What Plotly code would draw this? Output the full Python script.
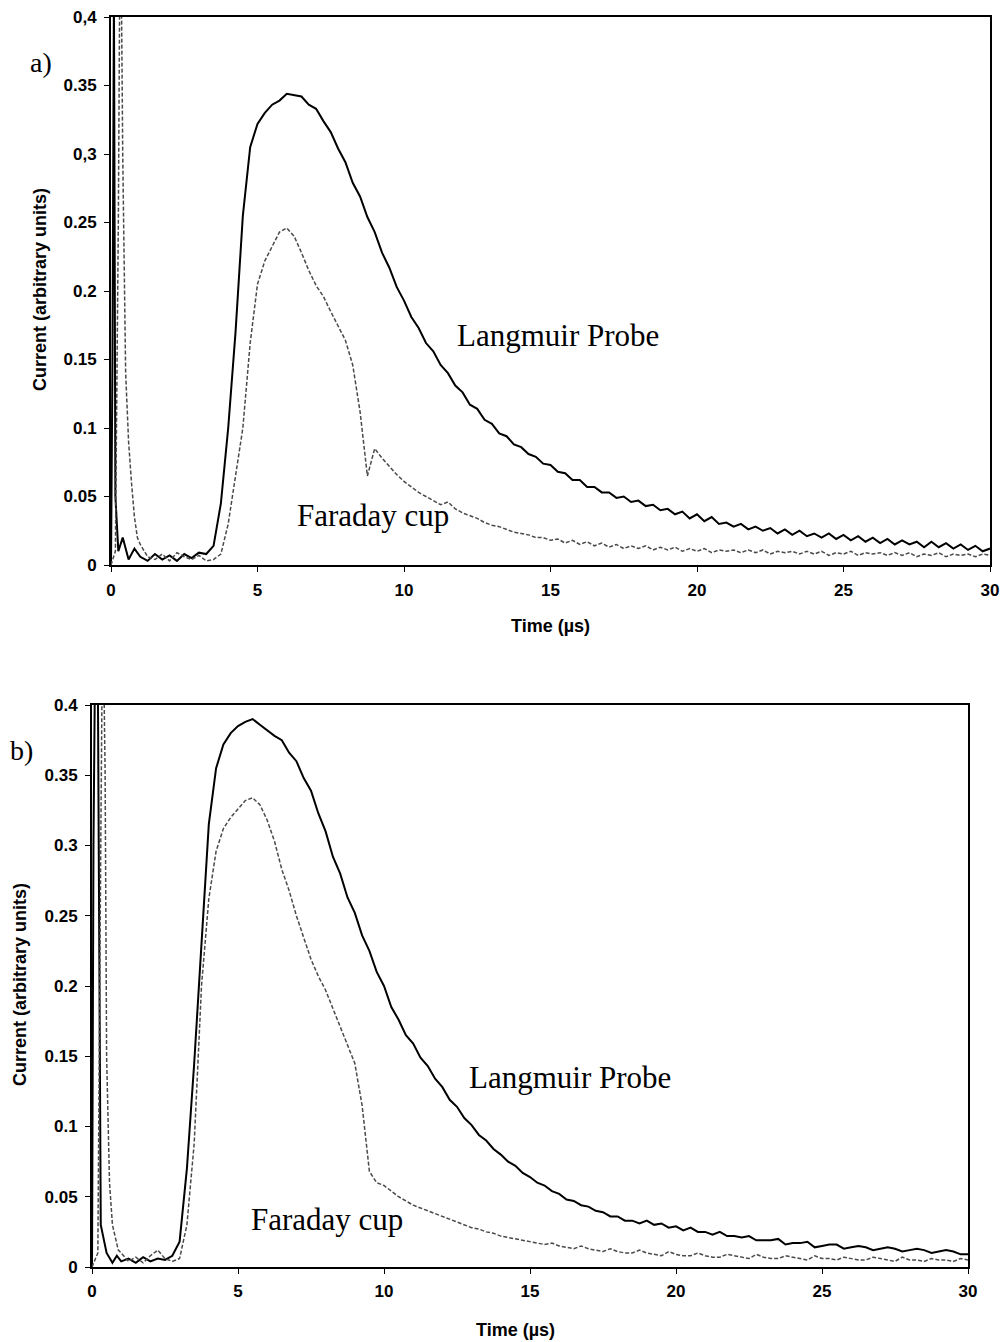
import numpy as np
import plotly.graph_objects as go

# ---------------- data ----------------
# common sampling grid after the initial spike (µs)
T_GRID = [round(1.0 + 0.25 * i, 2) for i in range(117)]

# --- panel a) ---
LA_EARLY_T = [0.0, 0.05, 0.1, 0.15, 0.25, 0.4, 0.6, 0.8]
LA_EARLY_V = [0.0, 0.15, 0.42, 0.05, 0.01, 0.02, 0.004, 0.012]
LA_GRID_V = [
    .006, .003, .008, .004,  .007, .003, .008, .005,  .009, .008, .014, .045,
    .100, .170, .255, .305,  .322, .330, .336, .339,  .344, .343, .342, .336,
    .333, .324, .316, .304,  .294, .279, .269, .254,  .243, .228, .217, .203,
    .193, .181, .173, .162,  .156, .146, .140, .131,  .126, .117, .114, .106,
    .103, .096, .094, .088,  .086, .081, .079, .074,  .073, .068, .067, .062,
    .062, .057, .057, .053,  .053, .049, .050, .046,  .047, .043, .044, .040,
    .041, .037, .039, .034,  .037, .032, .035, .030,  .031, .028, .030, .026,
    .028, .025, .027, .023,  .026, .022, .025, .021,  .023, .020, .023, .019,
    .022, .018, .021, .017,  .020, .016, .019, .015,  .018, .015, .017, .013,
    .017, .013, .016, .012,  .015, .011, .014, .010,  .012,
]

FA_EARLY_T = [0.0, 0.15, 0.25, 0.3, 0.35, 0.4, 0.5, 0.6, 0.7, 0.8, 0.9]
FA_EARLY_V = [0.0, 0.01, 0.25, 0.43, 0.43, 0.30, 0.14, 0.09, 0.06, 0.035, 0.02]
FA_GRID_V = [
    .015, .006, .004, .008,  .003, .009, .006, .004,  .007, .003, .004, .008,
    .030, .065, .100, .162,  .205, .222, .233, .243,  .246, .240, .228, .215,
    .204, .196, .185, .174,  .164, .146, .112, .065,  .085, .078, .072, .066,
    .061, .057, .053, .050,  .047, .044, .046, .041,  .038, .036, .034, .031,
    .029, .028, .026, .024,  .023, .022, .020, .020,  .018, .019, .016, .018,
    .015, .017, .014, .016,  .013, .015, .012, .014,  .012, .014, .011, .013,
    .011, .013, .010, .012,  .010, .012, .009, .011,  .010, .011, .009, .011,
    .009, .011, .008, .010,  .009, .010, .008, .010,  .008, .010, .007, .009,
    .008, .010, .007, .009,  .008, .009, .007, .009,  .007, .009, .006, .008,
    .007, .009, .006, .008,  .007, .008, .006, .008,  .007,
]

# --- panel b) ---
LB_EARLY_T = [0.0, 0.05, 0.1, 0.2, 0.3, 0.5, 0.7, 0.85]
LB_EARLY_V = [0.0, 0.3, 0.42, 0.42, 0.03, 0.01, 0.003, 0.008]
LB_GRID_V = [
    .004, .006, .003, .007,  .004, .006, .005, .008,  .018, .070, .145, .230,
    .315, .355, .372, .380,  .385, .388, .390, .386,  .382, .378, .375, .366,
    .360, .348, .339, .323,  .310, .292, .280, .263,  .252, .236, .225, .210,
    .200, .185, .176, .165,  .159, .149, .143, .134,  .128, .119, .114, .106,
    .101, .094, .090, .084,  .080, .075, .072, .067,  .064, .060, .058, .054,
    .052, .048, .047, .044,  .043, .040, .039, .036,  .036, .033, .033, .031,
    .033, .030, .031, .028,  .029, .026, .028, .025,  .025, .023, .025, .022,
    .022, .021, .022, .019,  .019, .019, .020, .016,  .017, .017, .018, .014,
    .015, .016, .016, .013,  .014, .015, .014, .012,  .013, .014, .013, .011,
    .012, .013, .012, .010,  .011, .012, .011, .009,  .009,
]

FB_EARLY_T = [0.0, 0.2, 0.3, 0.35, 0.4, 0.45, 0.5, 0.6, 0.7, 0.8, 0.9]
FB_EARLY_V = [0.0, 0.01, 0.30, 0.43, 0.43, 0.35, 0.15, 0.06, 0.03, 0.02, 0.012]
FB_GRID_V = [
    .010, .004, .007, .003,  .008, .012, .006, .004,  .006, .030, .088, .200,
    .262, .296, .312, .320,  .326, .332, .334, .329,  .318, .303, .283, .268,
    .250, .235, .219, .207,  .197, .184, .171, .158,  .145, .115, .068, .060,
    .058, .054, .050, .047,  .044, .042, .040, .038,  .036, .034, .032, .030,
    .028, .027, .025, .024,  .022, .021, .020, .019,  .018, .017, .016, .017,
    .015, .014, .013, .015,  .013, .012, .011, .013,  .011, .010, .010, .012,
    .010, .009, .008, .011,  .009, .008, .008, .010,  .008, .007, .007, .009,
    .008, .007, .006, .009,  .007, .006, .006, .008,  .007, .006, .005, .008,
    .006, .006, .005, .007,  .006, .005, .005, .007,  .006, .005, .004, .007,
    .005, .005, .004, .006,  .005, .005, .004, .006,  .005,
]

X_TICKS = [0, 5, 10, 15, 20, 25, 30]
Y_TICKS = [0, 0.05, 0.1, 0.15, 0.2, 0.25, 0.3, 0.35, 0.4]
Y_TEXT_A = ["0", "0.05", "0.1", "0.15", "0.2", "0.25", "0,3", "0.35", "0,4"]
Y_TEXT_B = ["0", "0.05", "0.1", "0.15", "0.2", "0.25", "0.3", "0.35", "0.4"]

# ---------------- figure ----------------
W, H = 1003, 1342
def px(x): return x / W
def py(y): return 1 - y / H

fig = go.Figure()

solid = dict(color="black", width=2)
dashed = dict(color="#4a4a4a", width=1.5, dash="4px,2px")

fig.add_trace(go.Scatter(x=LA_EARLY_T + T_GRID, y=LA_EARLY_V + LA_GRID_V,
                         mode="lines", line=solid, xaxis="x", yaxis="y"))
fig.add_trace(go.Scatter(x=FA_EARLY_T + T_GRID, y=FA_EARLY_V + FA_GRID_V,
                         mode="lines", line=dashed, xaxis="x", yaxis="y"))
fig.add_trace(go.Scatter(x=LB_EARLY_T + T_GRID, y=LB_EARLY_V + LB_GRID_V,
                         mode="lines", line=solid, xaxis="x2", yaxis="y2"))
fig.add_trace(go.Scatter(x=FB_EARLY_T + T_GRID, y=FB_EARLY_V + FB_GRID_V,
                         mode="lines", line=dashed, xaxis="x2", yaxis="y2"))

tickfont = dict(family="Liberation Sans", size=17, color="black", weight="bold")
axis_common = dict(showline=True, mirror=True, linecolor="black", linewidth=2,
                   showgrid=False, zeroline=False, ticks="outside", ticklen=5,
                   tickwidth=1, tickcolor="black", tickfont=tickfont,
                   automargin=False)

fig.update_layout(
    width=W, height=H, margin=dict(l=0, r=0, t=0, b=0),
    paper_bgcolor="white", plot_bgcolor="white", showlegend=False,
    xaxis=dict(domain=[px(111), px(990)], range=[0, 30], tickvals=X_TICKS,
               anchor="y", ticklabelstandoff=4, **axis_common),
    yaxis=dict(domain=[py(565), py(17)], range=[0, 0.4], tickvals=Y_TICKS,
               ticktext=Y_TEXT_A, anchor="x", ticklabelstandoff=4, **axis_common),
    xaxis2=dict(domain=[px(92), px(968)], range=[0, 30], tickvals=X_TICKS,
                anchor="y2", ticklabelstandoff=3, **axis_common),
    yaxis2=dict(domain=[py(1267), py(705)], range=[0, 0.4], tickvals=Y_TICKS,
                ticktext=Y_TEXT_B, anchor="x2", ticklabelstandoff=4, **axis_common),
)

titlefont = dict(family="Liberation Sans", size=18, color="black", weight="bold")
serif = dict(family="Liberation Serif", size=31, color="black")
label_font = dict(family="Liberation Serif", size=28, color="black")

ann = [
    dict(text="Current (arbitrary units)", x=px(40), y=py(290), textangle=-90, font=titlefont),
    dict(text="Time (µs)", x=px(550), y=py(626), font=titlefont),
    dict(text="Current (arbitrary units)", x=px(20), y=py(985), textangle=-90, font=titlefont),
    dict(text="Time (µs)", x=px(515), y=py(1330), font=titlefont),
    dict(text="Langmuir Probe", x=px(558), y=py(335), font=serif),
    dict(text="Faraday cup", x=px(373), y=py(515), font=serif),
    dict(text="Langmuir Probe", x=px(570), y=py(1077), font=serif),
    dict(text="Faraday cup", x=px(327), y=py(1219), font=serif),
    dict(text="a)", x=px(41), y=py(62), font=label_font),
    dict(text="b)", x=px(21), y=py(750), font=label_font),
]
for a in ann:
    a.update(xref="paper", yref="paper", showarrow=False, xanchor="center", yanchor="middle")
    fig.add_annotation(**a)

fig.write_html("out.html")
